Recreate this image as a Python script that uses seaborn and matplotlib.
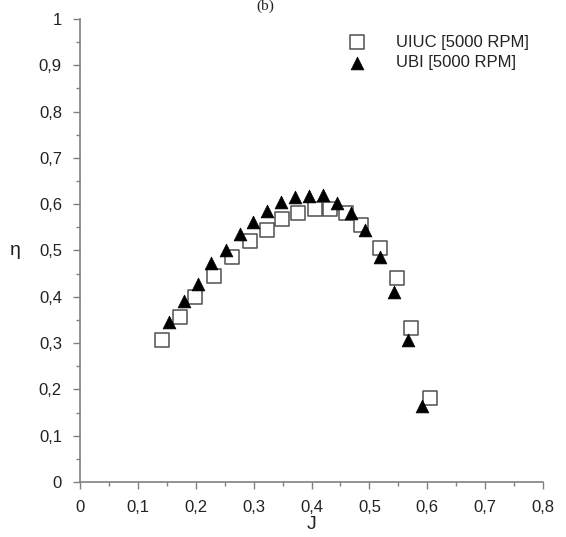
import matplotlib
matplotlib.use("Agg")
import matplotlib.pyplot as plt
import seaborn as sns
import pandas as pd
from matplotlib.ticker import MultipleLocator, FuncFormatter

uiuc_J = [0.142, 0.172, 0.199, 0.231, 0.263, 0.293, 0.323, 0.349, 0.376, 0.406,
          0.432, 0.459, 0.486, 0.519, 0.547, 0.572, 0.605]
uiuc_eta = [0.306, 0.357, 0.400, 0.445, 0.487, 0.520, 0.545, 0.567, 0.582, 0.589,
            0.589, 0.580, 0.554, 0.505, 0.440, 0.333, 0.182]

ubi_J = [0.154, 0.180, 0.204, 0.227, 0.252, 0.276, 0.299, 0.323, 0.348, 0.372,
         0.395, 0.420, 0.444, 0.469, 0.493, 0.519, 0.543, 0.567, 0.591]
ubi_eta = [0.346, 0.392, 0.428, 0.472, 0.502, 0.535, 0.562, 0.585, 0.605, 0.616,
           0.617, 0.619, 0.603, 0.580, 0.545, 0.487, 0.410, 0.307, 0.165]

label_uiuc = "UIUC [5000 RPM]"
label_ubi = "UBI [5000 RPM]"

sns.set_style("white")
plt.rcParams['font.family'] = ['Liberation Sans', 'DejaVu Sans']

fig = plt.figure(figsize=(5.66, 5.37), dpi=100)
ax = fig.add_axes([80/566, 1-482/537, 463/566, 463/537])

df_u = pd.DataFrame({"J": uiuc_J, "eta": uiuc_eta})
df_b = pd.DataFrame({"J": ubi_J, "eta": ubi_eta})

sns.scatterplot(data=df_u, x="J", y="eta", marker="s", s=100, facecolor="white",
                edgecolor="#505050", linewidth=1.1, label=label_uiuc, ax=ax, zorder=3)
sns.scatterplot(data=df_b, x="J", y="eta", marker="^", s=85, color="black",
                edgecolor="black", linewidth=0.5, label=label_ubi, ax=ax, zorder=4)

ax.set_xlim(0, 0.8)
ax.set_ylim(0, 1.0)
ax.xaxis.set_major_locator(MultipleLocator(0.1))
ax.xaxis.set_minor_locator(MultipleLocator(0.05))
ax.yaxis.set_major_locator(MultipleLocator(0.1))
ax.yaxis.set_minor_locator(MultipleLocator(0.05))

def fmt(v, pos):
    v = round(v, 2)
    if abs(v) < 1e-9:
        return "0"
    if abs(v - 1) < 1e-9:
        return "1"
    return ("%g" % v).replace(".", ",")

ax.xaxis.set_major_formatter(FuncFormatter(fmt))
ax.yaxis.set_major_formatter(FuncFormatter(fmt))

for s in ["top", "right"]:
    ax.spines[s].set_visible(False)
for s in ["left", "bottom"]:
    ax.spines[s].set_color("#808080")
    ax.spines[s].set_linewidth(1.2)

ax.tick_params(which="major", direction="out", length=5, width=1, color="#808080",
               labelsize=12, labelcolor="#222222", bottom=True, left=True)
ax.tick_params(axis="y", which="major", pad=8)
ax.tick_params(axis="x", which="major", pad=8)
ax.tick_params(which="minor", direction="out", length=3, width=1, color="#808080",
               bottom=True, left=True)

ax.set_xlabel("J", fontsize=14, color="#222222", labelpad=1)
ax.set_ylabel("η", fontsize=14, color="#222222", rotation=0, labelpad=17, va="center")

leg = ax.legend(loc="upper left", bbox_to_anchor=(254/463, 1 - 9/463), frameon=False,
                fontsize=12, handletextpad=1.3, labelspacing=0.35, borderaxespad=0.0,
                markerscale=1.0)
for t in leg.get_texts():
    t.set_color("#222222")

fig.text(265/566, 1.0, "(b)", ha="center", va="top", fontsize=11,
         family="Liberation Serif", color="#222222")

fig.savefig("out.png", dpi=100, facecolor="white")
